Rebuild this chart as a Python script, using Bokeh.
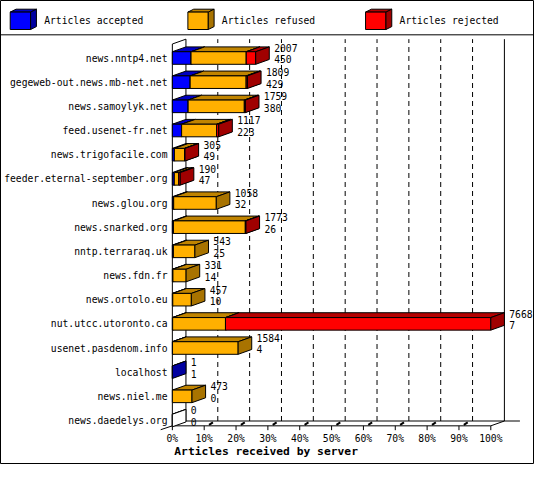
from bokeh.core.properties import value
from bokeh.embed import file_html
from bokeh.models import ColumnDataSource, Range1d
from bokeh.plotting import figure
from bokeh.resources import INLINE

# data
servers = ["news.nntp4.net", "gegeweb-out.news.mb-net.net", "news.samoylyk.net",
           "feed.usenet-fr.net", "news.trigofacile.com", "feeder.eternal-september.org",
           "news.glou.org", "news.snarked.org", "nntp.terraraq.uk", "news.fdn.fr",
           "news.ortolo.eu", "nut.utcc.utoronto.ca", "usenet.pasdenom.info",
           "localhost", "news.niel.me", "news.daedelys.org"]
accepted = [450, 429, 380, 223, 49, 47, 32, 26, 25, 14, 10, 7, 4, 1, 0, 0]
refused = [1330, 1350, 1354, 844, 244, 108, 1026, 1732, 518, 317, 447, 1272, 1580, 0, 473, 0]
rejected = [227, 30, 25, 50, 12, 35, 0, 15, 0, 0, 0, 6389, 0, 0, 0, 0]

series_names = ["Articles accepted", "Articles refused", "Articles rejected"]
front_colors = ["#0000ff", "#ffb000", "#ff0000"]
top_colors = ["#0000c0", "#c08400", "#b40000"]
side_colors = ["#0000a0", "#a87300", "#a00000"]

tick_values = [0, 10, 20, 30, 40, 50, 60, 70, 80, 90, 100]
tick_labels = ["%d%%" % t for t in tick_values]
x_title = "Articles received by server"

FONT = value("DejaVu Sans Mono")

# layout of the original picture in pixels: 0% at 177, 100% at 505,
# first row centred at 59.5, rows 25px apart
X0, PX_PCT = 177.0, 3.28
Y0, PX_ROW = 59.5, 25.0


def px(x):
    return (x - X0) / PX_PCT


def py(y):
    return (y - Y0) / PX_ROW


DX = 14 / PX_PCT      # depth of the 3d effect
DY = 5 / PX_ROW
HB = 6.5 / PX_ROW     # half height of a bar


def box(a, b, yt, yb, dx, dy):
    """front, top and side polygons of a 3d box"""
    front = ([a, b, b, a], [yb, yb, yt, yt])
    top = ([a, b, b + dx, a + dx], [yt, yt, yt - dy, yt - dy])
    side = ([b, b + dx, b + dx, b], [yb, yb - dy, yt - dy, yt])
    return top, front, side


p = figure(width=534, height=464,
           x_range=Range1d(px(0), px(550)), y_range=Range1d(py(480), py(0)),
           x_axis_type=None, y_axis_type=None,
           toolbar_location=None, output_backend="svg", min_border=0)
p.outline_line_color = "black"
p.background_fill_color = "white"
p.border_fill_color = "white"

# back wall: dashed grid lines
p.segment(x0=[t + DX for t in tick_values[1:-1]], y0=py(435),
          x1=[t + DX for t in tick_values[1:-1]], y1=py(40),
          line_color="black", line_width=1, line_dash="5 4")

# frame of the 3d box
frame_x = [[0, 0], [DX, DX], [0, DX], [100 + DX, 100 + DX], [0, 100], [100, 100 + DX],
           [DX, px(535)], [0, DX], [0, px(165)]]
frame_y = [[py(45), py(440)], [py(40), py(435)], [py(45), py(40)], [py(40), py(435)],
           [py(440), py(440)], [py(440), py(435)], [py(435), py(435)],
           [py(440), py(435)], [py(440), py(444)]]
p.multi_line(xs=frame_x, ys=frame_y, line_color="black", line_width=1)

# ticks on the floor
p.segment(x0=tick_values, y0=py(440), x1=tick_values, y1=py(444.5),
          line_color="black", line_width=1)
p.segment(x0=[t + 5 / PX_PCT for t in tick_values[1:-1]], y0=py(439),
          x1=[t + 9 / PX_PCT for t in tick_values[1:-1]], y1=py(436.5),
          line_color="black", line_width=2)

# the bars
totals = [a + r + j for a, r, j in zip(accepted, refused, rejected)]
scale = 100.0 / max(totals)
xs, ys, fills = [], [], []
for i, row in enumerate(zip(accepted, refused, rejected)):
    yt, yb = i - HB, i + HB
    if sum(row) == 0:
        for f in box(0, 0, yt, yb, DX, DY):
            xs.append(f[0]); ys.append(f[1]); fills.append("white")
        continue
    start = 0
    for k, v in enumerate(row):
        if v == 0:
            continue
        a, b = start * scale, (start + v) * scale
        top, front, side = box(a, b, yt, yb, DX, DY)
        for f, c in ((top, top_colors[k]), (front, front_colors[k]), (side, side_colors[k])):
            xs.append(f[0]); ys.append(f[1]); fills.append(c)
        start += v

bars = ColumnDataSource(dict(xs=xs, ys=ys, fill=fills))
p.patches("xs", "ys", source=bars, fill_color="fill", line_color="black", line_width=1)

# numbers beside the bars
lab_x = [t * scale + DX + 5 / PX_PCT for t in totals]
rows = list(range(len(servers)))
p.text(x=lab_x, y=[i - 0.42 for i in rows], text=[str(t) for t in totals],
       text_font=FONT, text_font_size=value("9.7px"), text_color="black",
       text_align="left", text_baseline="middle")
p.text(x=lab_x, y=[i + 0.06 for i in rows], text=[str(a) for a in accepted],
       text_font=FONT, text_font_size=value("9.7px"), text_color="black",
       text_align="left", text_baseline="middle")

# server names
p.text(x=px(172), y=rows, text=servers, text_font=FONT, text_font_size=value("9.7px"),
       text_color="black", text_align="right", text_baseline="middle")

# percent labels and axis title
p.text(x=tick_values, y=py(453), text=tick_labels, text_font=FONT,
       text_font_size=value("9.7px"), text_color="black",
       text_align="center", text_baseline="middle")
p.text(x=[px(179)], y=[py(467)], text=[x_title], text_font=FONT,
       text_font_size=value("11.3px"), text_font_style="bold", text_color="black",
       text_align="left", text_baseline="middle")

# legend on top
p.segment(x0=px(0), y0=py(35.5), x1=px(550), y1=py(35.5), line_color="black", line_width=1)
leg_left = [10, 193, 376]
lxs, lys, lfill = [], [], []
for k, x in enumerate(leg_left):
    top, front, side = box(px(x), px(x + 21), py(12), py(30), 6 / PX_PCT, 3 / PX_ROW)
    for f, c in ((top, top_colors[k]), (front, front_colors[k]), (side, side_colors[k])):
        lxs.append(f[0]); lys.append(f[1]); lfill.append(c)
p.patches(lxs, lys, fill_color=lfill, line_color="black", line_width=1)
p.text(x=[px(x + 35) for x in leg_left], y=py(21), text=series_names, text_font=FONT,
       text_font_size=value("9.7px"), text_color="black",
       text_align="left", text_baseline="middle")

open("out.html", "w").write(file_html(p, INLINE))
